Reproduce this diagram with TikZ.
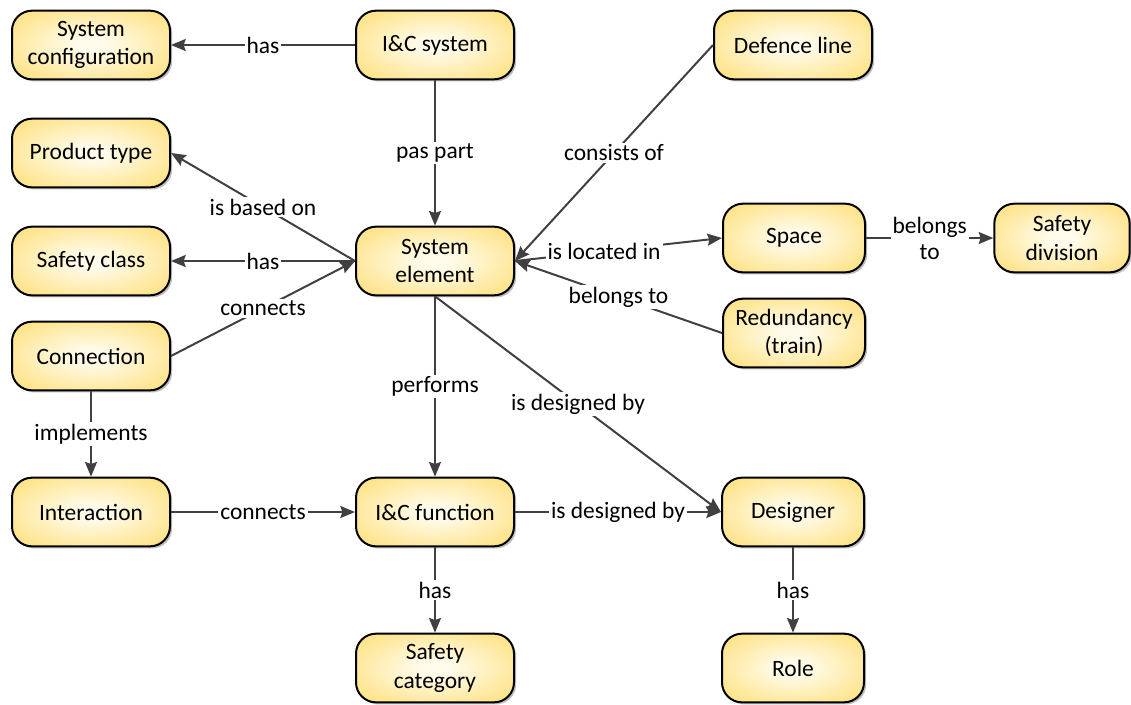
\documentclass[tikz,border=0pt]{standalone}
\usepackage{fontspec}
\setmainfont{Carlito}
\usetikzlibrary{arrows.meta,shadows}
\definecolor{boxedge}{HTML}{FFD95F}
\definecolor{boxcore}{HTML}{FFFBEA}
\definecolor{linkgray}{HTML}{404040}
% soft glow: pale centre fading to yellow towards the border
\pgfdeclareradialshading{glow}{\pgfpoint{0bp}{0bp}}{%
  color(0bp)=(boxcore); color(5bp)=(boxcore); color(42bp)=(boxedge); color(80bp)=(boxedge)}
\tikzset{
  concept/.style={draw=black, line width=1.5pt, rounded corners=15pt,
    shading=glow,
    minimum width=118.5pt, minimum height=51.5pt, align=center,
    font=\fontsize{17.6}{21.5}\selectfont,
    drop shadow={shadow xshift=1.6pt, shadow yshift=-1.6pt, opacity=0.25, fill=black}},
  narrow/.style={concept, minimum width=106.5pt},
  link/.style={draw=linkgray, line width=1.5pt,
    -{Stealth[length=11pt,width=9pt,inset=1.5pt]}},
  lbl/.style={fill=white, inner sep=1.5pt, align=center,
    font=\fontsize{17.6}{19.5}\selectfont, midway}
}
\begin{document}
\begin{tikzpicture}[x=0.75pt,y=-0.75pt]
\useasboundingbox (0,0) rectangle (1131,704);

% concepts
\node[concept] (cfg)  at (91,45)   {System\\configuration};
\node[concept] (ics)  at (435,45)  {I\&C system};
\node[concept] (def)  at (793,45)  {Defence line};
\node[concept] (prod) at (91,153)  {Product type};
\node[concept] (sel)  at (435,261) {System\\element};
\node[concept] (scl)  at (91,261)  {Safety class};
\node[narrow]  (spc)  at (794,238) {Space};
\node[concept, minimum width=101.5pt] (sdiv) at (1062,238) {Safety\\division};
\node[narrow]  (red)  at (794,333) {Redundancy\\(train)};
\node[concept] (con)  at (91,356)  {Connection};
\node[concept] (inter) at (91,512) {Interaction};
\node[concept] (fun)  at (435,512) {I\&C function};
\node[narrow]  (des)  at (793,512) {Designer};
\node[concept] (scat) at (435,668) {Safety\\category};
\node[narrow]  (role) at (793,668) {Role};

% relations
\draw[link] (ics) -- node[lbl]{has} (cfg);
\draw[link] (ics) -- node[lbl]{pas part} (sel);
\draw[link] (sel.west) -- node[lbl]{is based on} (prod.east);
\draw[link] (sel.west) -- node[lbl]{has} (scl.east);
\draw[link] (con.east) -- node[lbl]{connects} (sel.west);
\draw[link] (def.west) -- node[lbl]{consists of} (sel.east);
\draw[link] (sel.east) -- node[lbl, pos=0.43]{is located in} (spc.west);
\draw[link] (red.west) -- node[lbl]{belongs to} (sel.east);
\draw[link] (spc) -- node[lbl]{belongs\\to} (sdiv);
\draw[link] (sel) -- node[lbl]{performs} (fun);
\draw[link] (sel.south) -- node[lbl]{is designed by} (des.west);
\draw[link] (con) -- node[lbl]{implements} (inter);
\draw[link] (inter) -- node[lbl]{connects} (fun);
\draw[link] (fun) -- node[lbl]{is designed by} (des);
\draw[link] (fun) -- node[lbl]{has} (scat);
\draw[link] (des) -- node[lbl]{has} (role);
\end{tikzpicture}
\end{document}
